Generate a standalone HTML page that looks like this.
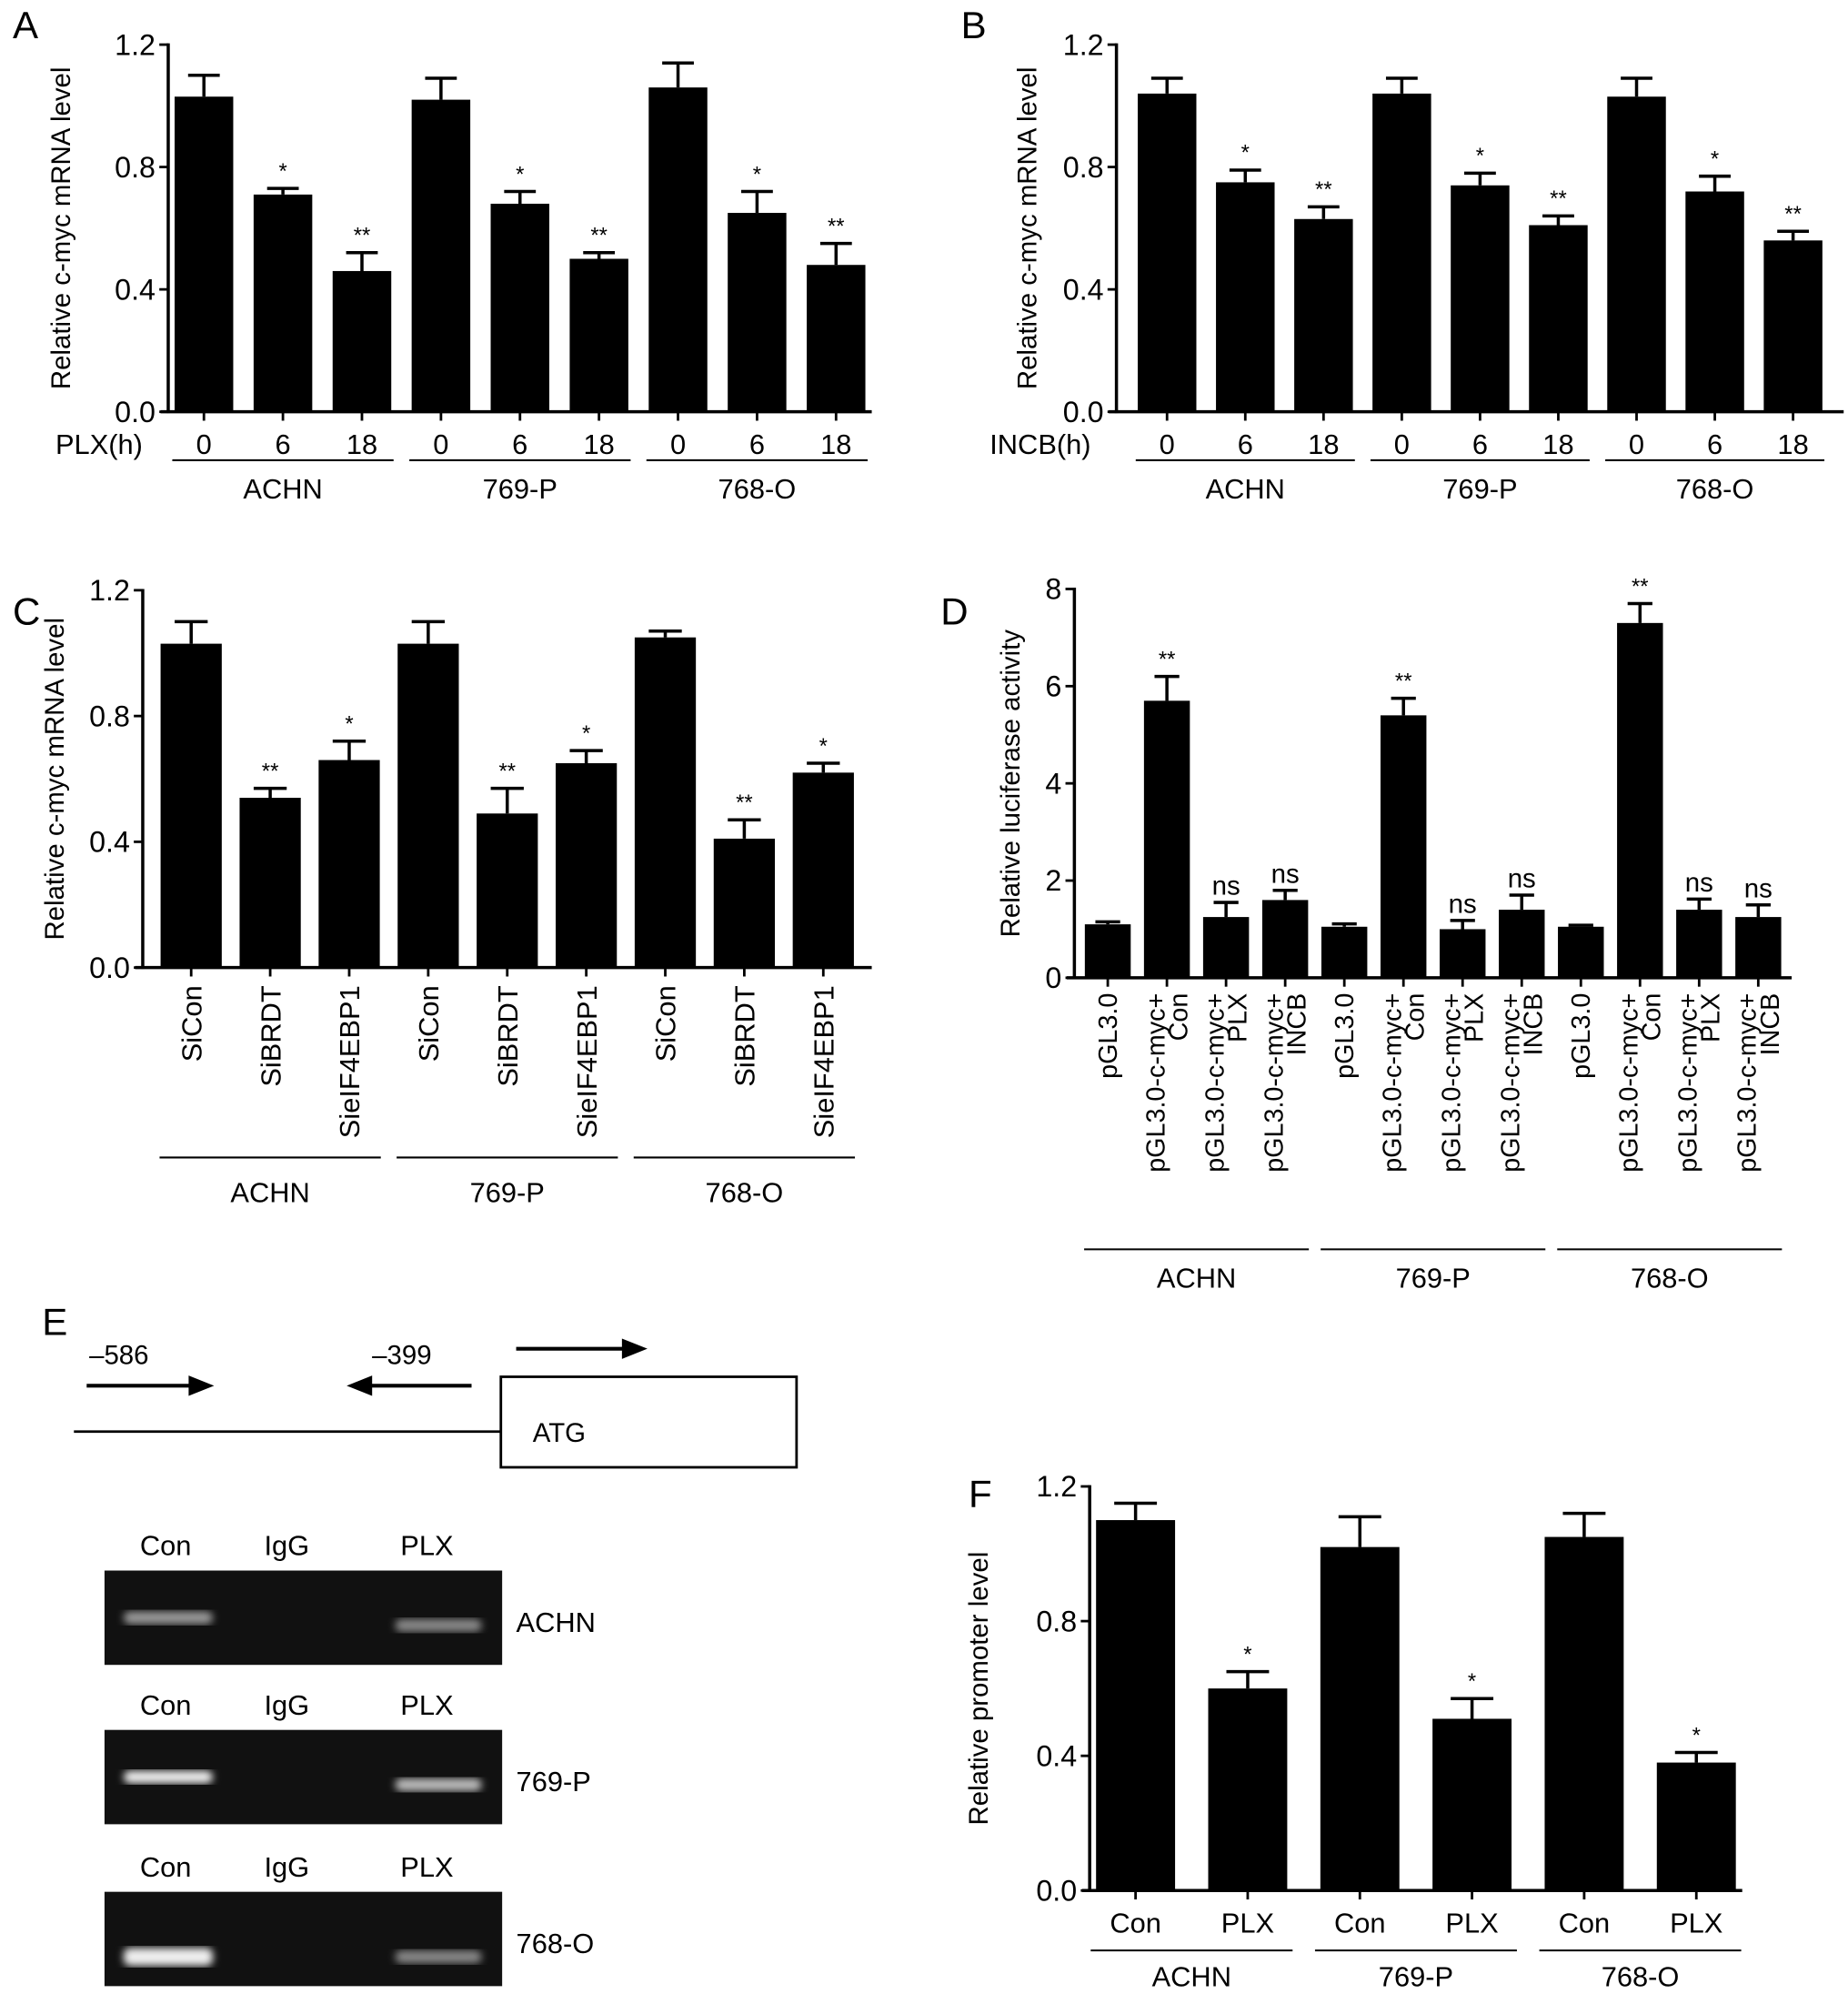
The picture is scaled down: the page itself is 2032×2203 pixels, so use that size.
<!DOCTYPE html>
<html><head><meta charset="utf-8">
<style>
html,body{margin:0;padding:0;background:#fff;}
svg{display:block;font-family:"Liberation Sans",Arial,sans-serif;}
</style></head>
<body>
<svg id="fig" width="2032" height="2203" viewBox="0 0 1450 1572" xmlns="http://www.w3.org/2000/svg">
<g>
<text x="33" y="1047" font-size="30">E</text>
<text x="70" y="1070" font-size="21">–586</text>
<text x="292" y="1070" font-size="21">–399</text>
<g><line x1="68" y1="1087" x2="150" y2="1087" stroke="#000" stroke-width="3"/><polygon points="148,1079 168,1087 148,1095" fill="#000"/></g>
<g><line x1="370" y1="1087" x2="290" y2="1087" stroke="#000" stroke-width="3"/><polygon points="292,1079 272,1087 292,1095" fill="#000"/></g>
<g><line x1="405" y1="1058" x2="490" y2="1058" stroke="#000" stroke-width="3"/><polygon points="488,1050 508,1058 488,1066" fill="#000"/></g>
<line x1="58" y1="1123" x2="393" y2="1123" stroke="#000" stroke-width="2"/>
<rect x="393" y="1080" width="232" height="71" fill="none" stroke="#000" stroke-width="2"/>
<text x="418" y="1131" font-size="21">ATG</text>
</g>
<g id="gels"></g>
<g id="charts"></g>
</svg>
<script>
// ---- data ----
const groups = ["ACHN","769-P","768-O"];
const aCats = ["0","6","18","0","6","18","0","6","18"];
const aVals = [1.03,0.71,0.46,1.02,0.68,0.50,1.06,0.65,0.48];
const aErr = [0.07,0.02,0.06,0.07,0.04,0.02,0.08,0.07,0.07];
const aSig = ["","*","**","","*","**","","*","**"];
const bCats = ["0","6","18","0","6","18","0","6","18"];
const bVals = [1.04,0.75,0.63,1.04,0.74,0.61,1.03,0.72,0.56];
const bErr = [0.05,0.04,0.04,0.05,0.04,0.03,0.06,0.05,0.03];
const bSig = ["","*","**","","*","**","","*","**"];
const cCats = ["SiCon","SiBRDT","SieIF4EBP1","SiCon","SiBRDT","SieIF4EBP1","SiCon","SiBRDT","SieIF4EBP1"];
const cVals = [1.03,0.54,0.66,1.03,0.49,0.65,1.05,0.41,0.62];
const cErr = [0.07,0.03,0.06,0.07,0.08,0.04,0.02,0.06,0.03];
const cSig = ["","**","*","","**","*","","**","*"];
const dCats = ["pGL3.0","Con","PLX","INCB","pGL3.0","Con","PLX","INCB","pGL3.0","Con","PLX","INCB"];
const dVals = [1.1,5.7,1.25,1.6,1.05,5.4,1.0,1.4,1.05,7.3,1.4,1.25];
const dErr = [0.05,0.5,0.3,0.2,0.06,0.35,0.18,0.3,0.03,0.4,0.22,0.25];
const dSig = ["","**","ns","ns","","**","ns","ns","","**","ns","ns"];
const fCats = ["Con","PLX","Con","PLX","Con","PLX"];
const fVals = [1.10,0.60,1.02,0.51,1.05,0.38];
const fErr = [0.05,0.05,0.09,0.06,0.07,0.03];
const fSig = ["","*","","*","","*"];
const ticks12 = [0,0.4,0.8,1.2];
const tickLabels12 = ["0.0","0.4","0.8","1.2"];
const ticks8 = [0,2,4,6,8];
const tickLabels8 = ["0","2","4","6","8"];

const NS="http://www.w3.org/2000/svg";
const root=document.getElementById('charts');
function mk(tag,attrs,parent,txt){const e=document.createElementNS(NS,tag);for(const k in attrs)e.setAttribute(k,attrs[k]);if(txt!==undefined)e.textContent=txt;(parent||root).appendChild(e);return e;}

function chart(c){
  const g=mk('g',{});
  
  
  const y=v=>c.y0-(v/c.max)*(c.y0-c.yTop);
  const n=c.vals.length;
  const x=i=>c.x0+c.pad+(i+0.5)*c.step;
  const lbl=mk('text',{x:c.lx,y:c.ly,'font-size':30},g,c.letter.toUpperCase());
  
  
  for(let i=0;i<n;i++){
    const top=y(c.vals[i]), et=y(c.vals[i]+c.err[i]);
    const bar=mk('rect',{x:x(i)-c.bw/2,y:top,width:c.bw,height:c.y0-top,fill:'#000'},g);
    
    
    const eb=mk('path',{d:`M${x(i)} ${top} V${et} M${x(i)-c.bw*0.27} ${et} H${x(i)+c.bw*0.27}`,stroke:'#000','stroke-width':2.5,fill:'none'},g);
    
    
    if(c.sig[i]){
      const ns=c.sig[i]==='ns';
      const s=mk('text',{x:x(i),y:et-(ns?6:8),'text-anchor':'middle','font-size':ns?21:17},g,c.sig[i]);
      
      
    }
    mk('line',{x1:x(i),y1:c.y0,x2:x(i),y2:c.y0+7,stroke:'#000','stroke-width':2},g);
    if(c.rot==='none'){
      const t=mk('text',{x:x(i),y:c.y0+33,'text-anchor':'middle','font-size':22},g,c.cats[i]);
      
      
    } else if(c.rot==='single'){
      const t=mk('text',{x:0,y:0,'text-anchor':'end','font-size':22,transform:`translate(${x(i)+8},${c.y0+14}) rotate(-90)`},g,c.cats[i]);
      
      
    } else {
      const two=c.cats[i]!=='pGL3.0';
      const t=mk('text',{x:0,y:0,'text-anchor':'end','font-size':20.5,transform:`translate(${x(i)+(two?-2:7)},${c.y0+12}) rotate(-90)`},g,two?'pGL3.0-c-myc+':c.cats[i]);
      
      
      if(two){const t2=mk('text',{x:0,y:0,'text-anchor':'end','font-size':20.5,transform:`translate(${x(i)+16},${c.y0+12}) rotate(-90)`},g,c.cats[i]);
        
        }
    }
  }
  const ya=mk('line',{x1:c.x0,y1:c.yTop-1,x2:c.x0,y2:c.y0+1,stroke:'#000','stroke-width':2.5},g);
  
  
  const xa=mk('line',{x1:c.x0-6,y1:c.y0,x2:c.x0+c.pad*2+n*c.step,y2:c.y0,stroke:'#000','stroke-width':2.5},g);
  
  
  c.ticks.forEach((t,k)=>{
    mk('line',{x1:c.x0-7,y1:y(t),x2:c.x0,y2:y(t),stroke:'#000','stroke-width':2},g);
    const tl=mk('text',{x:c.x0-10,y:y(t)+8,'text-anchor':'end','font-size':23},g,c.tickLabels[k]);
    
    
  });
  const yt=mk('text',{x:0,y:0,'text-anchor':'middle','font-size':21,transform:`translate(${c.ytx},${(c.y0+c.yTop)/2+c.ytdy}) rotate(-90)`},g,c.ytitle);
  
  
  if(c.xprefix){const p=mk('text',{x:c.x0-20,y:c.y0+33,'text-anchor':'end','font-size':22},g,c.xprefix);
    
    }
  const per=n/3;
  groups.forEach((gn,k)=>{
    const xa0=x(k*per)-c.step*0.4, xa1=x(k*per+per-1)+c.step*0.4;
    const ul=mk('line',{x1:xa0,y1:c.gy,x2:xa1,y2:c.gy,stroke:'#000','stroke-width':1.5},g);
    
    
    const gl=mk('text',{x:(xa0+xa1)/2,y:c.gy+c.gl,'text-anchor':'middle','font-size':22},g,gn);
    
    
  });
}

chart({id:'a',letter:'A',lx:10,ly:30,x0:132,yTop:35,y0:323,max:1.2,pad:-3,step:62,bw:46,vals:aVals,err:aErr,sig:aSig,cats:aCats,rot:'none',ticks:ticks12,tickLabels:tickLabels12,ytitle:'Relative c-myc mRNA level',ytx:55,ytdy:0,xprefix:'PLX(h)',gy:361,gl:30});
chart({id:'b',letter:'B',lx:754,ly:30,x0:876,yTop:35,y0:323,max:1.2,pad:9,step:61.4,bw:46,vals:bVals,err:bErr,sig:bSig,cats:bCats,rot:'none',ticks:ticks12,tickLabels:tickLabels12,ytitle:'Relative c-myc mRNA level',ytx:813,ytdy:0,xprefix:'INCB(h)',gy:361,gl:30});
chart({id:'c',letter:'C',lx:10,ly:490,x0:112,yTop:463,y0:759,max:1.2,pad:7,step:62,bw:48,vals:cVals,err:cErr,sig:cSig,cats:cCats,rot:'single',ticks:ticks12,tickLabels:tickLabels12,ytitle:'Relative c-myc mRNA level',ytx:50,ytdy:0,gy:908,gl:35});
chart({id:'d',letter:'D',lx:738,ly:490,x0:843,yTop:462,y0:767,max:8,pad:3,step:46.4,bw:36,vals:dVals,err:dErr,sig:dSig,cats:dCats,rot:'double',ticks:ticks8,tickLabels:tickLabels8,ytitle:'Relative luciferase activity',ytx:800,ytdy:0,gy:980,gl:30});
chart({id:'f',letter:'F',lx:760,ly:1182,x0:855,yTop:1166,y0:1483,max:1.2,pad:-8,step:88,bw:62,vals:fVals,err:fErr,sig:fSig,cats:fCats,rot:'none',ticks:ticks12,tickLabels:tickLabels12,ytitle:'Relative promoter level',ytx:775,ytdy:0,gy:1530,gl:28});

const gelLines=["ACHN","769-P","768-O"];
const gelTops=[1232,1357,1484];
const gg=document.getElementById('gels');
mk('defs',{},gg).innerHTML='<filter id="blur"><feGaussianBlur stdDeviation="3"/></filter>';
gelLines.forEach((nm,k)=>{
  const t=gelTops[k];
  ['Con','IgG','PLX'].forEach((l,j)=>{
    const tx=mk('text',{x:[130,225,335][j],y:t-12,'text-anchor':'middle','font-size':22},gg,l);
    
    
  });
  const r=mk('rect',{x:82,y:t,width:312,height:74,fill:'#111'},gg);
  
  
  const b1=mk('rect',{x:97,y:t+(k==2?44:32),width:70,height:k==2?14:10,rx:5,fill:k==0?'#999':'#eee',filter:'url(#blur)'},gg);
  
  
  const b2=mk('rect',{x:310,y:t+(k==2?46:38),width:68,height:10,rx:5,fill:k==1?'#bbb':'#888',filter:'url(#blur)'},gg);
  
  
  const s=mk('text',{x:405,y:t+48,'font-size':22},gg,nm);
  
  
});
</script>
</body></html>
